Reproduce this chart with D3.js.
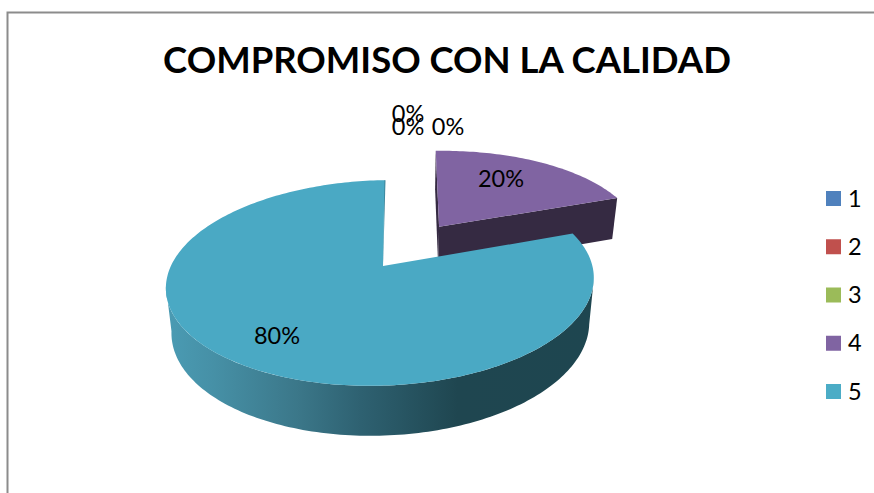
<!DOCTYPE html>
<html>
<head>
<meta charset="utf-8">
<script src="https://cdn.jsdelivr.net/npm/d3@7"></script>
<style>
html,body{margin:0;padding:0;background:#fff;overflow:hidden}
svg{display:block}
text{font-family:Lato,"Open Sans",sans-serif;fill:#000}
</style>
</head>
<body>
<svg id="c" width="874" height="493"></svg>
<script>
const categories = ["1","2","3","4","5"];
const values = [0,0,0,20,80];
const colors = ["#4F81BD","#C0504D","#9BBB59","#8064A2","#4AA9C4"];
const chartTitle = "COMPROMISO CON LA CALIDAD";

const W=874,H=493;
const svg=d3.select("#c");
const P=0.165;            // perspective strength
const total=d3.sum(values);
const pct=d3.format(".0%");

// linear scales from the unit disk to pixels, one pair per plane (lid, base)
const topX=d3.scaleLinear().domain([-1,1]).range([380.5-211,380.5+211]);
const topY=d3.scaleLinear().domain([-1,1]).range([266+100,266-100]);
const baseX=d3.scaleLinear().domain([-1,1]).range([381-206,381+206]);
const baseY=d3.scaleLinear().domain([-1,1]).range([310+105,310-105]);

function project(u,v,plane,dx=0){
  const s=1/(1+P*v);
  const X=plane==="top"?topX:baseX, Y=plane==="top"?topY:baseY;
  const cx=X(0), cy=Y(0);
  return [cx+(X(u)-cx)*s+4*v+dx, cy+(Y(v)-cy)*s-3.3*u*s];
}
const pie=d3.pie().sort(null).startAngle(0).endAngle(2*Math.PI).value(d=>d);
const arcs=pie(values);

const line=d3.line();
function rim(a0,a1,plane,off,dx){
  const n=Math.max(2,Math.ceil(Math.abs(a1-a0)/0.02));
  return d3.range(n+1).map(i=>{
    const a=a0+(a1-a0)*i/n;
    return project(off[0]+Math.sin(a),off[1]+Math.cos(a),plane,dx);
  });
}

const defs=svg.append("defs");
const grad=defs.append("linearGradient").attr("id","side")
  .attr("gradientUnits","userSpaceOnUse").attr("x1",172).attr("x2",592).attr("y1",0).attr("y2",0);
[[0,"#4A9AB2"],[0.1,"#4690A6"],[0.3,"#3B7789"],[0.45,"#2E6171"],[0.68,"#1F4650"],[1,"#1E4650"]]
  .forEach(s=>grad.append("stop").attr("offset",s[0]).attr("stop-color",s[1]));

// frame of the original picture
svg.append("path").attr("d","M7.5,493V12.5H874").attr("fill","none").attr("stroke","#8c8c8c").attr("stroke-width",2);

// title
svg.append("text").attr("x",447).attr("y",73).attr("text-anchor","middle")
  .attr("font-size",36.5).attr("font-weight",700).text(chartTitle);

// exploded slice (index 3)
const s4=arcs[3];
const off=[0.278,0.41], sdx=2;
const sApexT=project(off[0],off[1],"top",sdx), sApexB=project(off[0],off[1],"base",sdx);
const cutR=[sApexT,rim(s4.endAngle,s4.endAngle,"top",off,sdx)[0],rim(s4.endAngle,s4.endAngle,"base",off,sdx)[0],sApexB];
const cutL=[sApexT,rim(0,0,"top",off,sdx)[0],rim(0,0,"base",off,sdx)[0],sApexB];
const dark="#352A42";
svg.append("path").attr("d",line(cutL)+"Z").attr("fill",dark);
svg.append("path").attr("d",line(cutR)+"Z").attr("fill",dark);
svg.append("path").attr("d",line([sApexT,...rim(s4.startAngle,s4.endAngle,"top",off,sdx)])+"Z").attr("fill",colors[3]);

// large slice (index 4): wall runs between the outermost points of lid and base
const sideA=Math.PI/2+Math.asin(P), sideB=3*Math.PI/2-Math.asin(P);
const s5=arcs[4];
svg.append("path").attr("d",line([...rim(sideA,sideB,"top",[0,0],0),...rim(sideB,sideA,"base",[0,0],0)])+"Z").attr("fill","url(#side)");
const apex5=project(0,0,"top",2.5);
svg.append("path").attr("d",line([apex5,project(0,1,"top",1),project(0,1,"top",-0.5),apex5])+"Z").attr("fill","#3B8297");
svg.append("path").attr("d",line([apex5,...rim(s5.startAngle,s5.endAngle,"top",[0,0],0)])+"Z").attr("fill",colors[4]);

// data labels
const labelAt=[[408,114],[408,127],[448,127],[501,179],[277,336]];
svg.selectAll("text.lab").data(arcs).join("text").attr("class","lab")
  .attr("x",(d,i)=>labelAt[i][0]).attr("y",(d,i)=>labelAt[i][1]).attr("dy","0.35em")
  .attr("text-anchor","middle").attr("font-size",23.5)
  .text(d=>pct(d.value/total));

// legend
const legY=d3.scalePoint().domain(categories).range([198.5,391.5]);
const leg=svg.selectAll("g.leg").data(categories).join("g").attr("class","leg")
  .attr("transform",d=>`translate(826,${legY(d)})`);
leg.append("rect").attr("x",0).attr("y",-7.5).attr("width",15).attr("height",15)
  .attr("fill",(d,i)=>i===4?"#4BACC6":colors[i]);
leg.append("text").attr("x",22).attr("dy","0.35em").attr("font-size",23.5).text(d=>d);
</script>
</body>
</html>
